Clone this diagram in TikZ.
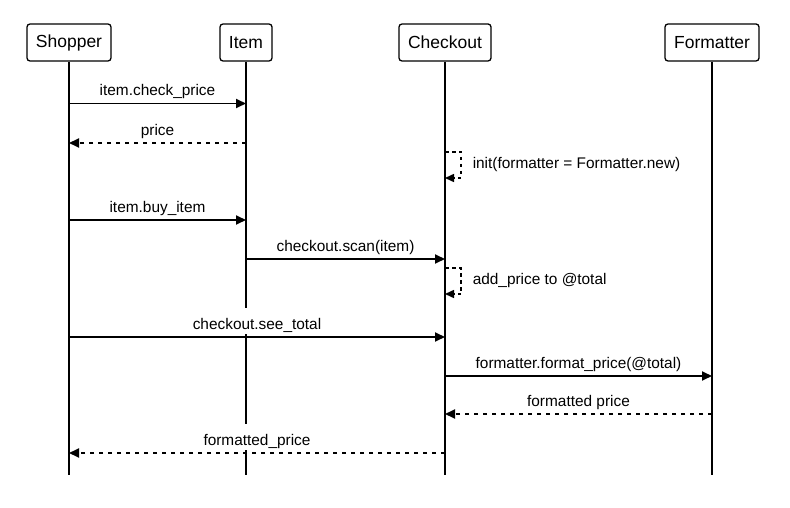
\documentclass[tikz,border=0pt]{standalone}
\usepackage{fontspec}
\setmainfont{Liberation Sans}
\usetikzlibrary{arrows.meta}
\begin{document}
\begin{tikzpicture}[x=1pt,y=-1pt,
  actor/.style={draw, line width=1.3pt, rounded corners=3pt, minimum height=37pt, inner sep=0pt, font=\fontsize{17.5}{20}\selectfont},
  life/.style={line width=1.8pt},
  msg/.style={line width=1.8pt, -{Triangle[length=10pt,width=9pt]}},
  ret/.style={msg, dash pattern=on 4.5pt off 4.5pt},
  selfloop/.style={line width=1.5pt, dash pattern=on 3.5pt off 3.5pt, -{Triangle[length=9pt,width=8pt]}},
  lbl/.style={fill=white, inner sep=1pt, text height=21pt, text depth=3pt, anchor=base, yshift=7.5pt, font=\fontsize{15.4}{18}\selectfont},
  sidelbl/.style={inner sep=0pt, font=\fontsize{15.4}{18}\selectfont}]
\useasboundingbox (0,0) rectangle (790,508);
\fill[white] (0,0) rectangle (790,508);
% actors
\node[actor, minimum width=84pt] (S) at (69,42.5) {Shopper};
\node[actor, minimum width=52pt] (I) at (246,42.5) {Item};
\node[actor, minimum width=92pt] (C) at (445,42.5) {Checkout};
\node[actor, minimum width=94pt] (F) at (712,42.5) {Formatter};
% lifeline ends
\coordinate (Se) at (69,475);
\coordinate (Ie) at (246,475);
\coordinate (Ce) at (445,475);
\coordinate (Fe) at (712,475);
\draw[life] (S) -- (Se);
\draw[life] (I) -- (Ie);
\draw[life] (C) -- (Ce);
\draw[life] (F) -- (Fe);
% message rows
\coordinate (m1) at (0,103.5);
\coordinate (m2) at (0,143);
\coordinate (a1) at (0,152);
\coordinate (a2) at (0,178);
\coordinate (m3) at (0,220);
\coordinate (m4) at (0,259);
\coordinate (b1) at (0,268);
\coordinate (b2) at (0,294);
\coordinate (m5) at (0,337);
\coordinate (m6) at (0,376);
\coordinate (m7) at (0,414);
\coordinate (m8) at (0,453);
% messages
\draw[msg] (S |- m1) -- (I |- m1) node[lbl, midway] {item.check\_price};
\draw[ret] (I |- m2) -- (S |- m2) node[lbl, midway] {price};
\draw[selfloop] (C |- a1) -- ++(16,0) -- ++(0,26) node[sidelbl, midway, right=11pt] {init(formatter = Formatter.new)} -- (C |- a2);
\draw[msg] (S |- m3) -- (I |- m3) node[lbl, midway] {item.buy\_item};
\draw[msg] (I |- m4) -- (C |- m4) node[lbl, midway] {checkout.scan(item)};
\draw[selfloop] (C |- b1) -- ++(16,0) -- ++(0,26) node[sidelbl, midway, right=11pt] {add\_price to @total} -- (C |- b2);
\draw[msg] (S |- m5) -- (C |- m5) node[lbl, midway] {checkout.see\_total};
\draw[msg] (C |- m6) -- (F |- m6) node[lbl, midway] {formatter.format\_price(@total)};
\draw[ret] (F |- m7) -- (C |- m7) node[lbl, midway] {formatted price};
\draw[ret] (C |- m8) -- (S |- m8) node[lbl, midway] {formatted\_price};
\end{tikzpicture}
\end{document}
